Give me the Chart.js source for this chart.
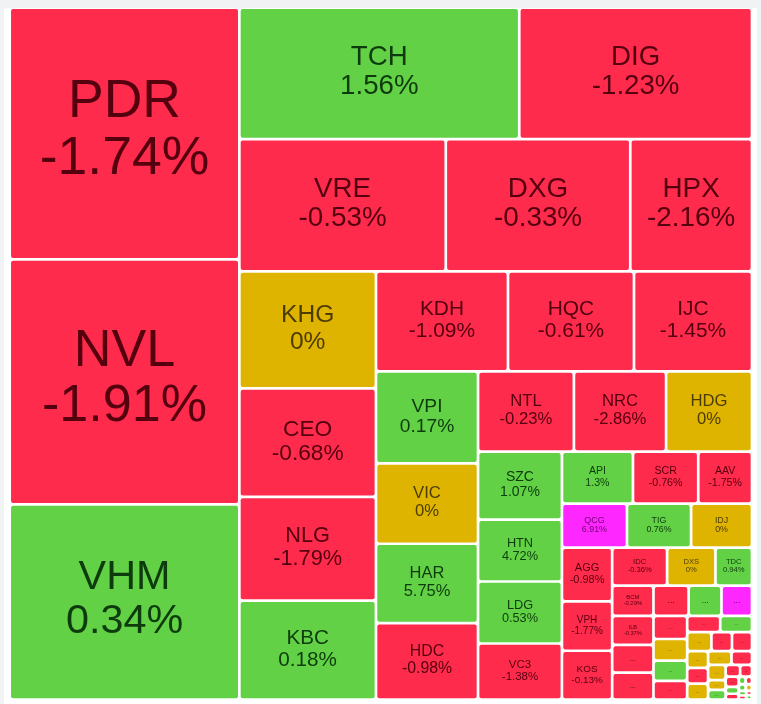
<!DOCTYPE html>
<html>
<head>
<meta charset="utf-8">
<title>Real estate heatmap</title>
<script src="https://cdn.jsdelivr.net/npm/chart.js@4.4.1/dist/chart.umd.min.js"></script>
<style>
  html, body { margin: 0; padding: 0; background: #f1f2f4; }
  #wrap { position: relative; width: 761px; height: 704px; overflow: hidden; }
  #panel { position: absolute; left: 4px; top: 8px; width: 753px; height: 700px; background: #fff; }
  #heatmap { position: absolute; left: 0; top: 0; }
</style>
</head>
<body>
<div id="wrap">
  <div id="panel"></div>
  <canvas id="heatmap" width="761" height="704"></canvas>
</div>
<script>
// traded value (relative) and daily change in %, in the order the map lays them out
const tickers = [
  'PDR', 'NVL', 'VHM', 'TCH', 'DIG', 'VRE', 'DXG', 'HPX', 'KHG', 'CEO',
  'NLG', 'KBC', 'KDH', 'HQC', 'IJC', 'VPI', 'VIC', 'HAR', 'HDC', 'NTL',
  'NRC', 'HDG', 'SZC', 'HTN', 'LDG', 'VC3', 'API', 'SCR', 'AAV', 'QCG',
  'TIG', 'IDJ', 'AGG', 'VPH', 'KOS', 'IDC', 'DXS', 'TDC', 'BCM', 'ILB',
  '...', '...', '...', '...', '...', '...', '...', '...', '...', '...',
  '...', '...', '...', '...', '...', '...', '...', '...', '...', '...',
  '...', '...', '...', '...', '...', '...', '...', '...', '...', '...',
  '...', '...', '...', '...', '...'
];
const values = [
  578, 563, 448, 368, 306, 273, 244, 161, 160, 148,
  142, 135, 132, 126, 118, 94, 82, 81, 78, 77,
  74, 69, 57, 52, 52, 47, 37, 34, 28, 28.6,
  28.2, 26.8, 27, 24.8, 24.5, 20.9, 18.4, 13.9, 12.5, 11.9,
  11.5, 11.1, 10.6, 9.9, 9.2, 7.8, 7.3, 6.8, 6.3, 5.4,
  5.2, 4.6, 3.9, 3.8, 3.5, 3.3, 3.3, 3.2, 2.8, 2.7,
  1.7, 1.7, 1.7, 1.4, 1.35, 0.9, 0.75, 0.55, 0.5, 0.45,
  0.4, 0.35, 0.3, 0.25, 0.25
];
const changes = [
  -1.74, -1.91, 0.34, 1.56, -1.23, -0.53, -0.33, -2.16, 0, -0.68,
  -1.79, 0.18, -1.09, -0.61, -1.45, 0.17, 0, 5.75, -0.98, -0.23,
  -2.86, 0, 1.07, 4.72, 0.53, -1.38, 1.3, -0.76, -1.75, 6.91,
  0.76, 0, -0.98, -1.77, -0.13, -0.36, 0, 0.94, -0.29, -0.37,
  -0.8, -1.2, -0.6, 0.9, 6.95, -1.5, 0, 1.1, -0.4,
  -0.9, 0.6, 0, -1.3, -0.7, 0, -0.5, 0, 0,
  -2.1, 0, 0, 0.8, -0.6, -1.0, -0.3, 1.4, -0.9, 0.5,
  -0.2, 0.7, 0, 0.3, -1.1, -0.5, 0.4
];

const CEILING = 6.9;
const fills = { up: '#62d145', down: '#fe2b4c', flat: '#dfb400', ceil: '#ff27ff' };
const inks = { up: '#0d3b0d', down: '#55000f', flat: '#4d3c00', ceil: '#6e006e' };
const family = '"Liberation Sans", Arial, sans-serif';

function trend(c) {
  if (c >= CEILING) return 'ceil';
  if (c > 0) return 'up';
  if (c < 0) return 'down';
  return 'flat';
}

// worst cell of a strip, measured against a slightly wide target shape
function stripScore(row, sum, side, across, target) {
  const t = sum / side;
  let worst = 0;
  row.forEach(a => {
    const len = a / t;
    const r = across ? len / t : t / len; // width / height
    worst = Math.max(worst, r / target, target / r);
  });
  return worst;
}

// squarified layout: strips run along the shorter side of what is left
function squarify(vals, x0, y0, x1, y1, target) {
  const total = vals.reduce((a, b) => a + b, 0);
  const k = (x1 - x0) * (y1 - y0) / total;
  const areas = vals.map(v => v * k);
  const rects = [];
  let i = 0;
  while (i < areas.length) {
    const across = (x1 - x0) <= (y1 - y0);
    const side = across ? x1 - x0 : y1 - y0;
    const row = [areas[i]];
    let sum = areas[i];
    let best = stripScore(row, sum, side, across, target);
    let j = i + 1;
    while (j < areas.length) {
      const s = stripScore(row.concat(areas[j]), sum + areas[j], side, across, target);
      if (s > best) break;
      row.push(areas[j]);
      sum += areas[j];
      best = s;
      j++;
    }
    const t = j >= areas.length ? (across ? y1 - y0 : x1 - x0) : sum / side;
    let pos = across ? x0 : y0;
    row.forEach(a => {
      const len = a / sum * side;
      if (across) rects.push({ x0: pos, x1: pos + len, y0: y0, y1: y0 + t });
      else rects.push({ x0: x0, x1: x0 + t, y0: pos, y1: pos + len });
      pos += len;
    });
    if (across) y0 += t; else x0 += t;
    i = j;
  }
  return rects;
}

class TreemapController extends Chart.DatasetController {
  update(mode) {
    const meta = this._cachedMeta;
    this.updateElements(meta.data, 0, meta.data.length, mode);
  }

  updateElements(elements, start, count, mode) {
    const ds = this.getDataset();
    const xs = this._cachedMeta.xScale;
    const ys = this._cachedMeta.yScale;
    const rects = squarify(ds.data,
      xs.getPixelForValue(xs.min), ys.getPixelForValue(ys.min),
      xs.getPixelForValue(xs.max), ys.getPixelForValue(ys.max), ds.cellShape);
    const gap = ds.spacing;
    for (let i = start; i < start + count; i++) {
      const r = rects[i];
      const left = r.x0 + gap, right = r.x1 - gap;
      this.updateElement(elements[i], i, {
        x: (left + right) / 2,
        y: r.y0 + gap,
        base: r.y1 - gap,
        width: right - left,
        horizontal: false,
        borderSkipped: {},
        enableBorderRadius: true,
        inflateAmount: 0,
        options: this.resolveDataElementOptions(i, mode)
      }, mode);
    }
  }

  draw() {
    super.draw();
    const ctx = this.chart.ctx;
    const ds = this.getDataset();
    const labels = this.chart.data.labels;
    this._cachedMeta.data.forEach((el, i) => {
      const w = el.width, h = el.base - el.y;
      const cx = el.x, cy = (el.y + el.base) / 2;
      ctx.save();
      ctx.fillStyle = inks[trend(ds.changes[i])];
      ctx.textAlign = 'center';
      ctx.textBaseline = 'middle';
      if (labels[i] === '...') {
        if (h > 6 && w > 6) {
          ctx.font = Math.max(4, h * 0.3) + 'px ' + family;
          ctx.fillText('...', cx, cy);
        }
      } else {
        const pct = ds.changes[i] + '%';
        let fs = h * 0.215;
        ctx.font = fs + 'px ' + family;
        const widest = Math.max(ctx.measureText(labels[i]).width, ctx.measureText(pct).width);
        if (widest > w * 0.86) fs *= w * 0.86 / widest;
        ctx.font = fs + 'px ' + family;
        ctx.fillText(labels[i], cx, cy - 0.58 * fs);
        ctx.fillText(pct, cx, cy + 0.48 * fs);
      }
      ctx.restore();
    });
  }
}
TreemapController.id = 'treemap';
TreemapController.defaults = { datasetElementType: false, dataElementType: 'bar' };
Chart.register(TreemapController);

const heatmap = new Chart(document.getElementById('heatmap'), {
  type: 'treemap',
  data: {
    labels: tickers,
    datasets: [{
      data: values,
      changes: changes,
      cellShape: 1.33,
      spacing: 1.35,
      backgroundColor: (c) => fills[trend(changes[c.dataIndex])],
      borderWidth: 0,
      borderRadius: 2
    }]
  },
  options: {
    responsive: false,
    animation: false,
    events: [],
    layout: { padding: { left: 9.7, top: 7.7, right: 9, bottom: 4.5 } },
    scales: {
      x: { type: 'linear', display: false, min: 0, max: 1 },
      y: { type: 'linear', display: false, min: 0, max: 1, reverse: true }
    },
    plugins: {
      legend: { display: false },
      tooltip: { enabled: false }
    }
  }
});
</script>
</body>
</html>
